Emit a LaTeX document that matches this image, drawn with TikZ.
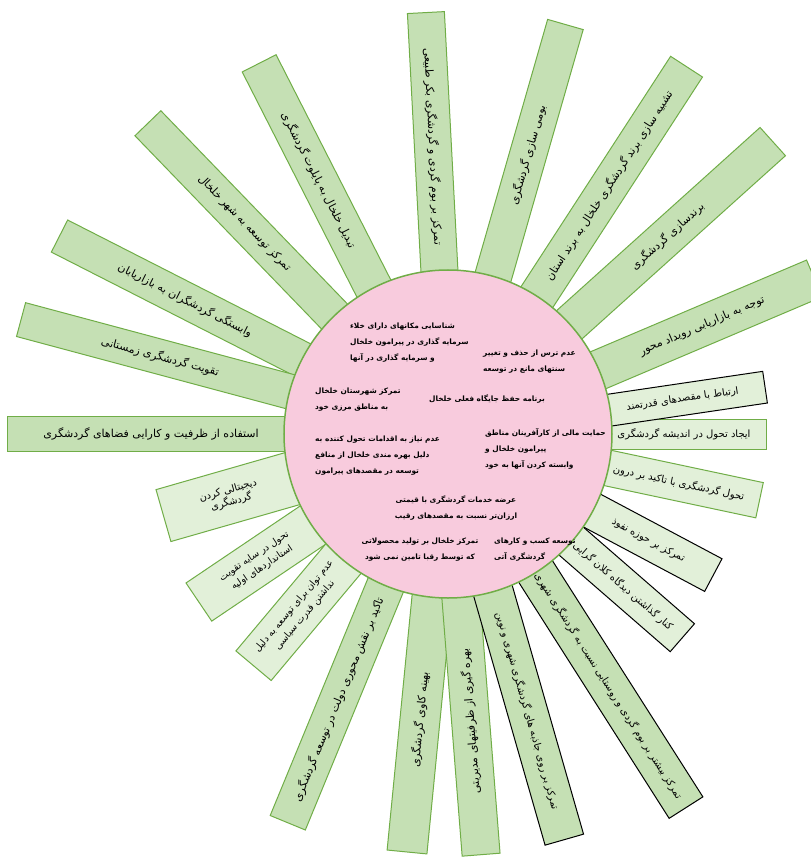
\documentclass[tikz,border=0pt]{standalone}
\usepackage{fontspec}
\usepackage{tikz}
\TeXXeTstate=1
\newfontfamily\farsi[Script=Arabic]{DejaVu Sans}
\newcommand{\fa}[1]{\beginR #1\endR}

\definecolor{spokegreen}{HTML}{C5E0B4}
\definecolor{spokepale}{HTML}{E2F0D9}
\definecolor{spokeedge}{HTML}{70AD47}
\definecolor{hubpink}{HTML}{F8CBDD}

\tikzset{
    spoke/.style={rectangle, fill=spokegreen, draw=spokeedge, line width=1pt,
        inner sep=1pt, font=\farsi\fontsize{11}{13}\selectfont},
    palespoke/.style={spoke, fill=spokepale, font=\farsi\fontsize{10}{12}\selectfont},
    smalltext/.style={font=\farsi\fontsize{9.5}{14}\selectfont},
    blackedge/.style={draw=black},
    hubtext/.style={font=\farsi\bfseries\fontsize{7.4}{16}\selectfont, inner sep=0pt}
}

\begin{document}
\begin{tikzpicture}[x=1pt, y=1pt]

        \useasboundingbox (-448,-423) rectangle (363,434);

        % Upper and left spokes
        \node[spoke, minimum width=244, minimum height=40, rotate=23] (s1) at (23:276) {\fa{توجه به بازاریابی رویداد محور}};
        \node[spoke, minimum width=283, minimum height=38, rotate=42] (s2) at (42:295.5) {\fa{برندسازی گردشگری}};
        \node[spoke, minimum width=284, minimum height=38, rotate=57] (s3) at (57:296) {\fa{تشبیه سازی برند گردشگری خلخال به برند استان}};
        \node[spoke, minimum width=272, minimum height=37, rotate=74] (s4) at (74:290) {\fa{بومی سازی گردشگری}};
        \node[spoke, minimum width=268, minimum height=37, rotate=-87] (s5) at (93:288) {\fa{تمرکز بر بوم گردی و گردشگری بکر طبیعی}};
        \node[spoke, minimum width=262, minimum height=38, rotate=-63] (s6) at (117:285) {\fa{تبدیل خلخال به پایلوت گردشگری}};
        \node[spoke, minimum width=278, minimum height=36, rotate=-46] (s7) at (134:293) {\fa{تمرکز توسعه به شهر خلخال}};
        \node[spoke, minimum width=282, minimum height=36, rotate=-27] (s8) at (153:295) {\fa{وابستگی گردشگران به بازاریابان}};
        \node[spoke, minimum width=288, minimum height=35, rotate=-15] (s9) at (165:298) {\fa{تقویت گردشگری زمستانی}};
        \node[spoke, minimum width=286, minimum height=35, rotate=0] (s10) at (180:297) {\fa{استفاده از ظرفیت و کارایی فضاهای گردشگری}};

        % Lower left spokes
        \node[palespoke, minimum width=138, minimum height=54, rotate=16, align=center] (s23) at (196:227) {\fa{دیجیتالی کردن}\\\fa{گردشگری}};
        \node[palespoke, smalltext, minimum width=143, minimum height=46, rotate=34, align=center] (s22) at (214:229) {\fa{تحول در سایه تقویت}\\\fa{استانداردهای اولیه}};
        \node[palespoke, smalltext, minimum width=143, minimum height=46, rotate=50, align=center] (s21) at (230:231) {\fa{عدم توان برای توسعه به دلیل}\\\fa{نداشتن قدرت سیاسی}};

        % Bottom spokes
        \node[spoke, minimum width=267, minimum height=38, rotate=67.6] (s20) at (247.6:287) {\fa{تاکید بر نقش محوری دولت در توسعه گردشگری}};
        \node[spoke, minimum width=266, minimum height=40, rotate=84.4] (s19) at (264.4:287) {\fa{بهینه کاوی گردشگری}};
        \node[spoke, minimum width=268, minimum height=38, rotate=94.5] (s18) at (274.5:288) {\fa{بهره گیری از ظرفیتهای مدیریتی}};
        \node[spoke, blackedge, font=\farsi\fontsize{10}{12}\selectfont, minimum width=268, minimum height=40, rotate=-74] (s17) at (286:288) {\fa{تمرکز بر روی جاذبه های گردشگری شهری و نوین}};
        \node[spoke, blackedge, font=\farsi\fontsize{10}{12}\selectfont, minimum width=289, minimum height=40, rotate=-57.5] (s16) at (302.5:298.5) {\fa{تمرکز بیشتر بر بوم گردی و روستایی نسبت به گردشگری شهری}};

        % Lower right spokes
        \node[palespoke, blackedge, minimum width=157, minimum height=37, rotate=-41] (s15) at (319:232) {\fa{کنار گذاشتن دیدگاه کلان گرایی}};
        \node[palespoke, blackedge, minimum width=147, minimum height=37, rotate=-28] (s14) at (332:227) {\fa{تمرکز بر حوزه نفوذ}};
        \node[palespoke, minimum width=165, minimum height=36, rotate=-12] (s13) at (348:236) {\fa{تحول گردشگری با تاکید بر درون}};
        \node[palespoke, minimum width=165, minimum height=30, rotate=0] (s12) at (0:236) {\fa{ایجاد تحول در اندیشه گردشگری}};
        \node[palespoke, blackedge, minimum width=167, minimum height=32, rotate=8.4] (s11) at (8.4:237) {\fa{ارتباط با مقصدهای قدرتمند}};

        % The hub
        \node[circle, fill=hubpink, draw=spokeedge, line width=1.5pt, minimum size=328] (hub) at (0,0) {};

        % Texts inside the hub
        \node[hubtext, anchor=west, align=left] (h1) at (-98,91) {\fa{شناسایی مکانهای دارای خلاء}\\\fa{سرمایه گذاری در پیرامون خلخال}\\\fa{و سرمایه گذاری در آنها}};
        \node[hubtext, anchor=west, align=left] (h2) at (35,72) {\fa{عدم ترس از حذف و تغییر}\\\fa{سنتهای مانع در توسعه}};
        \node[hubtext, anchor=east] (h3) at (97,35) {\fa{برنامه حفظ جایگاه فعلی خلخال}};
        \node[hubtext, anchor=west, align=left] (h4) at (-133,34) {\fa{تمرکز شهرستان خلخال}\\\fa{به مناطق مرزی خود}};
        \node[hubtext, anchor=west, align=left] (h5) at (-133,-22) {\fa{عدم نیاز به اقدامات تحول کننده به}\\\fa{دلیل بهره مندی خلخال از منافع}\\\fa{توسعه در مقصدهای پیرامون}};
        \node[hubtext, anchor=west, align=left] (h6) at (37,-15) {\fa{حمایت مالی از کارآفرینان مناطق}\\\fa{پیرامون خلخال و}\\\fa{وابسته کردن آنها به خود}};
        \node[hubtext, align=center] (h7) at (8,-74.5) {\fa{عرضه خدمات گردشگری با قیمتی}\\\fa{ارزان‌تر نسبت به مقصدهای رقیب}};
        \node[hubtext, align=center] (h8) at (-28,-116) {\fa{تمرکز خلخال بر تولید محصولاتی}\\\fa{که توسط رقبا تامین نمی شود}};
        \node[hubtext, anchor=west, align=left] (h9) at (46,-116) {\fa{توسعه کسب و کارهای}\\\fa{گردشگری آتی}};

\end{tikzpicture}
\end{document}
